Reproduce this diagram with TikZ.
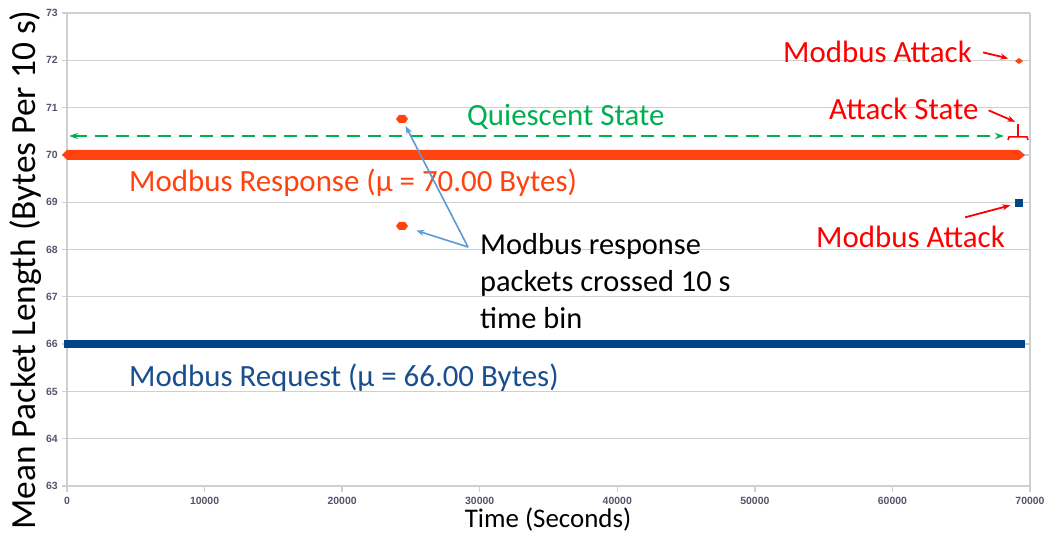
\documentclass[tikz,border=0pt]{standalone}
\usepackage{fontspec}
\setmainfont{Carlito}
\newfontfamily\tickfont{Liberation Sans}
\usetikzlibrary{arrows.meta}
\definecolor{respcol}{HTML}{FF420E}
\definecolor{reqcol}{HTML}{004586}
\definecolor{reqtext}{HTML}{1A4F8F}
\definecolor{gridcol}{HTML}{CFCFCF}
\definecolor{tickcol}{HTML}{55556E}
\definecolor{quiet}{HTML}{00B050}
\definecolor{callout}{HTML}{5B9BD5}
\definecolor{alertred}{HTML}{FF0000}
\begin{document}
\begin{tikzpicture}[x=1bp,y=-1bp,
  lbl/.style={font=\fontsize{31}{37}\selectfont, inner sep=0pt, anchor=base west},
  ticklbl/.style={font=\tickfont\fontsize{10.5}{12}\selectfont\bfseries, text=tickcol, inner sep=0pt},
  gridline/.style={draw=gridcol, line width=1.3bp},
  redarrow/.style={draw=alertred, line width=1.8bp, -{Stealth[length=8bp,width=6bp]}},
  bluearrow/.style={draw=callout, line width=1.6bp, -{Stealth[length=8bp,width=6bp]}},
  respmark/.style={fill=respcol},
]
\useasboundingbox (0,0) rectangle (1046,533);
\fill[white] (0,0) rectangle (1046,533);

% horizontal grid lines and y tick labels (63 ... 73)
\foreach \v in {63,...,73} {
  \draw[gridline] (62,{13+(73-\v)*47.3}) -- (1030,{13+(73-\v)*47.3});
  \node[ticklbl, anchor=east] (ytick\v) at (58,{13+(73-\v)*47.3}) {\v};
}
% plot frame
\draw[gridline] (67,13) -- (67,486);
\draw[gridline] (1030,13) -- (1030,486);
% x ticks and labels
\foreach \i/\t in {0/0,1/10000,2/20000,3/30000,4/40000,5/50000,6/60000,7/70000} {
  \draw[gridline] ({67+\i*137.57},486) -- ({67+\i*137.57},492);
  \node[ticklbl] (xtick\i) at ({67+\i*137.57},501) {\t};
}

% axis titles
\node[rotate=90, font=\fontsize{35.5}{40}\selectfont, inner sep=0pt, anchor=base] (ylab) at (35,270) {Mean Packet Length (Bytes Per 10 s)};
\node[font=\fontsize{27}{30}\selectfont, inner sep=0pt, anchor=base] (xlab) at (548,527) {Time (Seconds)};

% Modbus request series (66 bytes)
\fill[reqcol] (64,340) rectangle (1025,348);
% Modbus response series (70 bytes)
\fill[respcol] (62,155) -- (67,150) -- (1019,150) -- (1025,155) -- (1019,160) -- (67,160) -- cycle;

% isolated data points
\fill[respmark] (396,119) -- (399,115) -- (405,115) -- (408,119) -- (405,123) -- (399,123) -- cycle;
\coordinate (respHi) at (402,119);
\fill[respmark] (396,226) -- (399,222) -- (405,222) -- (408,226) -- (405,230) -- (399,230) -- cycle;
\coordinate (respLo) at (402,226);
\fill[respmark] (1015,61) -- (1019,58) -- (1023,61) -- (1019,64) -- cycle;
\coordinate (atkResp) at (1019,61);
\fill[reqcol] (1015,199) rectangle (1023,207);
\coordinate (atkReq) at (1019,203);

% series labels
\node[lbl, text=respcol] (resplbl) at (129,192) {Modbus Response (µ = 70.00 Bytes)};
\node[lbl, text=reqtext] (reqlbl) at (129,387) {Modbus Request (µ = 66.00 Bytes)};

% quiescent state span
\coordinate (qL) at (69,136);
\coordinate (qR) at (1004,136);
\draw[draw=quiet, line width=1.8bp, dash pattern=on 13bp off 8bp,
  {Stealth[length=9bp,width=6bp]}-{Stealth[length=9bp,width=6bp]}] (qL) -- (qR);
\node[lbl, text=quiet] (qlbl) at (467,126) {Quiescent State};

% attack state bracket
\draw[alertred, line width=1.5bp] (1008,140) -- (1009,137) -- (1027,137) -- (1028,140);
\draw[alertred, line width=1.5bp] (1018,137) -- (1018,124);
\coordinate (brk) at (1018,123);
\node[lbl, text=alertred] (atkstate) at (829,120) {Attack State};
\draw[redarrow, shorten >=3bp] ([xshift=10bp,yshift=-1bp]atkstate.east) -- (brk);

% attack annotations
\node[lbl, text=alertred] (atk1) at (783,63) {Modbus Attack};
\draw[redarrow, shorten >=11bp] ([xshift=11bp]atk1.east) -- (atkResp);
\node[lbl, text=alertred] (atk2) at (816,248) {Modbus Attack};
\draw[redarrow, shorten >=9bp] ([shift={(-40bp,9bp)}]atk2.north east) -- (atkReq);

% callout for the split response packets
\node[font=\fontsize{30.5}{37}\selectfont, inner sep=0pt, anchor=north west, align=left] (note) at (480,233)
  {Modbus response\\packets crossed 10 s\\time bin};
\coordinate (noteTip) at ([shift={(-12bp,-14bp)}]note.north west);
\draw[bluearrow, shorten >=8bp] (noteTip) -- (respHi);
\draw[bluearrow, shorten >=15bp] (noteTip) -- (respLo);
\end{tikzpicture}
\end{document}
